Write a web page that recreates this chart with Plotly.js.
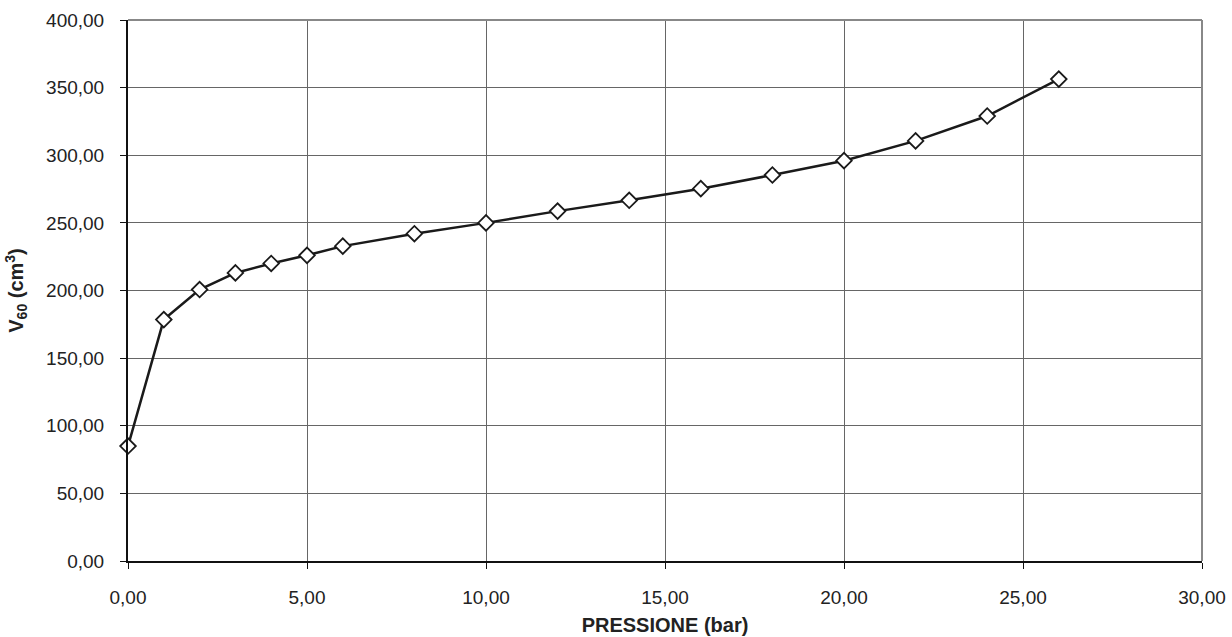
<!DOCTYPE html>
<html>
<head>
<meta charset="utf-8">
<script src="https://cdn.plot.ly/plotly-3.0.1.min.js"></script>
<style>html,body{margin:0;padding:0;background:#fff;}#chart{width:1232px;height:637px;}</style>
</head>
<body>
<div id="chart"></div>
<script>
const pressione = [0, 1, 2, 3, 4, 5, 6, 8, 10, 12, 14, 16, 18, 20, 22, 24, 26];
const v60 = [85.0, 178.5, 200.7, 213.0, 220.0, 226.0, 232.8, 242.0, 250.0, 258.7, 266.7, 275.3, 285.4, 296.0, 310.6, 329.0, 356.3];
const xTitle = 'PRESSIONE (bar)';
const yTitle = 'V<sub>60</sub> (cm<sup>3</sup>)';

const trace = {
  x: pressione, y: v60, type: 'scatter', mode: 'lines+markers',
  line: {color: '#1a1a1a', width: 2.5},
  marker: {symbol: 'diamond', size: 12, color: '#ffffff', line: {color: '#1a1a1a', width: 1.8}},
  cliponaxis: false, showlegend: false
};
const fontFam = 'Liberation Sans, Arial, sans-serif';
const layout = {
  width: 1232, height: 637,
  margin: {l: 128, r: 30, t: 20, b: 76},
  paper_bgcolor: '#fff', plot_bgcolor: '#fff',
  separators: ',.',
  font: {family: fontFam, size: 19, color: '#222'},
  xaxis: {
    range: [0, 30], dtick: 5, tick0: 0, tickformat: '.2f',
    showgrid: true, gridcolor: '#666', gridwidth: 1, zeroline: false,
    showline: true, linecolor: '#111', linewidth: 2,
    ticks: 'outside', ticklen: 6, tickcolor: '#111', tickwidth: 1,
    ticklabelstandoff: 12,
    title: {text: xTitle, font: {family: fontFam, size: 20, color: '#222', weight: 'bold'}, standoff: 11}
  },
  yaxis: {
    range: [0, 400], dtick: 50, tick0: 0, tickformat: '.2f',
    showgrid: true, gridcolor: '#666', gridwidth: 1, zeroline: false,
    showline: true, linecolor: '#111', linewidth: 2,
    ticks: 'outside', ticklen: 6, tickcolor: '#111', tickwidth: 1,
    ticklabelstandoff: 12,
    title: {text: yTitle, font: {family: fontFam, size: 20, color: '#222', weight: 'bold'}, standoff: 17}
  },
  shapes: [
    {type: 'line', xref: 'paper', yref: 'paper', x0: 0, x1: 1, y0: 1, y1: 1, line: {color: '#888', width: 2}},
    {type: 'line', xref: 'paper', yref: 'paper', x0: 1, x1: 1, y0: 0, y1: 1, line: {color: '#888', width: 2}}
  ]
};
Plotly.newPlot('chart', [trace], layout, {displayModeBar: false, staticPlot: true});
</script>
</body>
</html>
